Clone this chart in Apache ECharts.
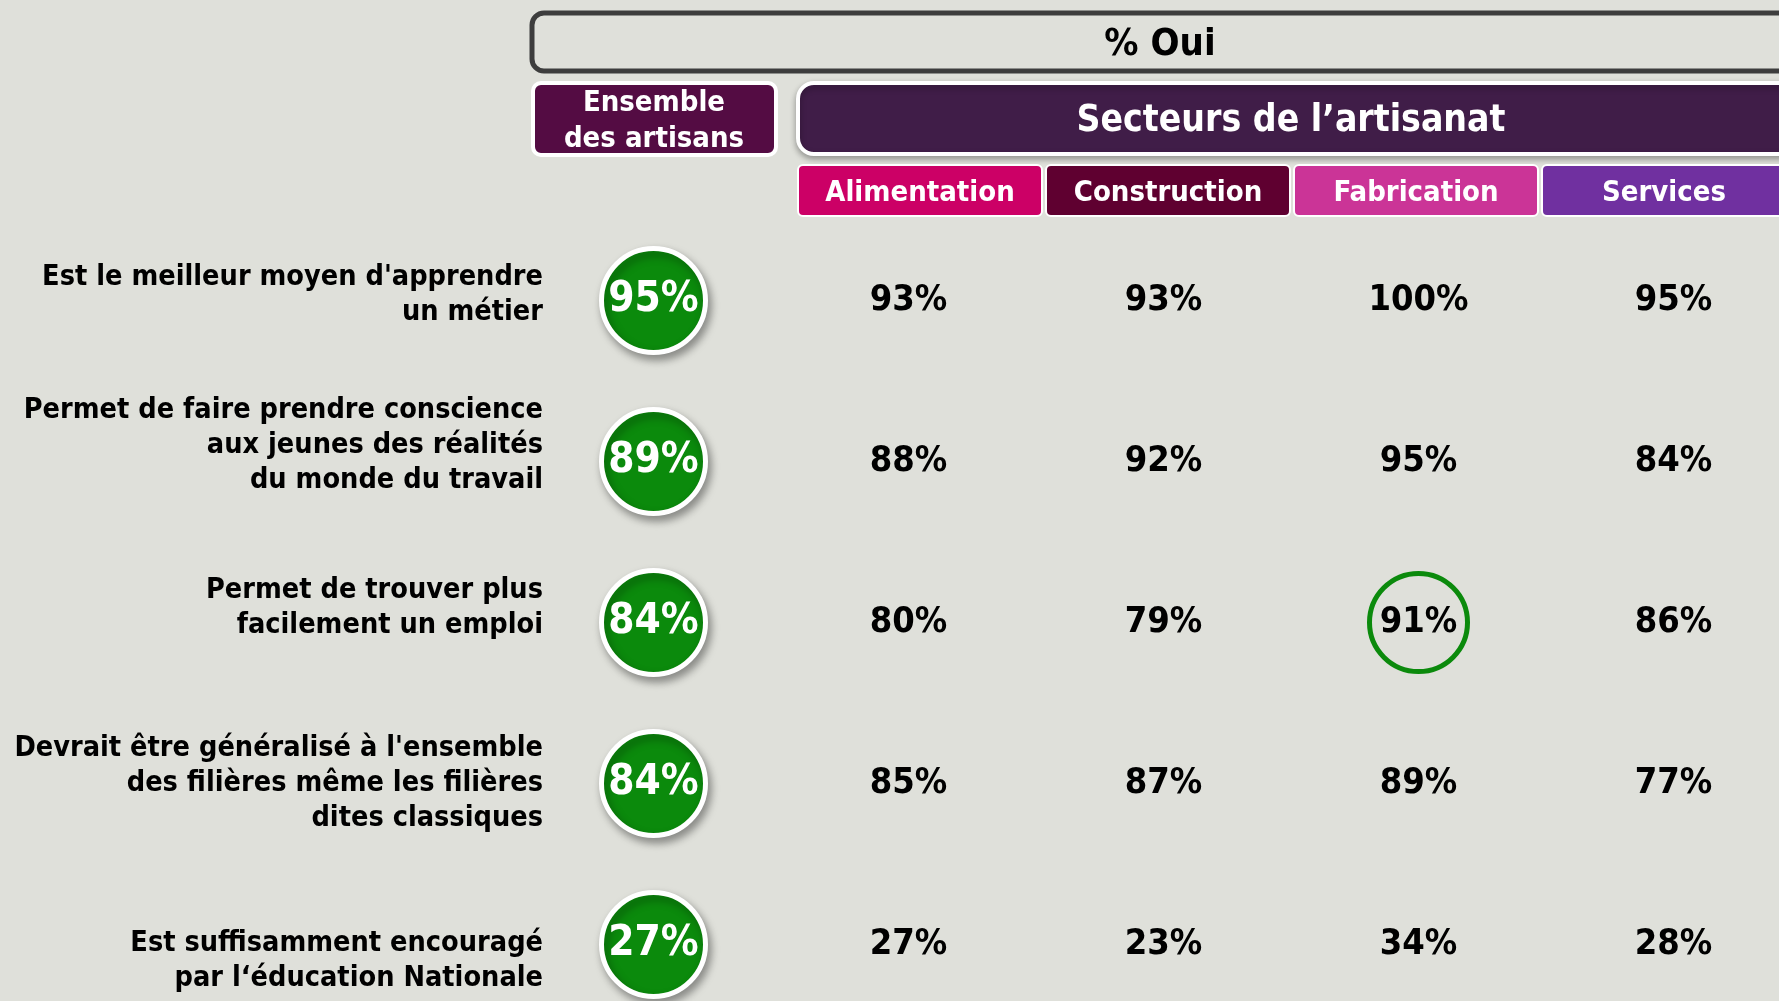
<!DOCTYPE html>
<html>
<head>
<meta charset="utf-8">
<title>% Oui - Secteurs de l'artisanat</title>
<script src="https://cdn.jsdelivr.net/npm/echarts@6/dist/echarts.min.js"></script>
<style>
    html, body { margin: 0; padding: 0; background: #dfe0da; }
    #main { width: 1779px; height: 1001px; }
</style>
</head>
<body>
<div id="main"></div>
<script>
    // questions (lignes)
    var rowLabels = [
        "Est le meilleur moyen d'apprendre\nun métier",
        "Permet de faire prendre conscience\naux jeunes des réalités\ndu monde du travail",
        "Permet de trouver plus\nfacilement un emploi",
        "Devrait être généralisé à l'ensemble\ndes filières même les filières\ndites classiques",
        "Est suffisamment encouragé\npar l‘éducation Nationale"
    ];
    // colonnes
    var columns = ['Ensemble des artisans', 'Alimentation', 'Construction', 'Fabrication', 'Services'];
    var sectors = ['Alimentation', 'Construction', 'Fabrication', 'Services'];

    // % oui
    var ensemble = [95, 89, 84, 84, 27];
    var alimentation = [93, 88, 80, 85, 27];
    var construction = [93, 92, 79, 87, 23];
    var fabrication = [100, 95, 91, 89, 34];
    var services = [95, 84, 86, 77, 28];

    // cellules entourées (secteur, ligne)
    var highlighted = [['Fabrication', 2]];

    var topTitle = '% Oui';
    var ensembleTitle = 'Ensemble\ndes artisans';
    var sectorTitle = 'Secteurs de l’artisanat';

    // styles
    var FONT = "'DejaVu Sans Condensed', 'DejaVu Sans', sans-serif";
    var GREEN = '#0b8a0c';
    var sectorColors = ['#cc0066', '#5f0030', '#cb3497', '#7030a0'];
    var labelShift = [-5, -16, -14, 0, 17]; // décalage vertical des libellés (px)

    var sectorValues = [alimentation, construction, fabrication, services];

    var ensembleData = ensemble.map(function (v, i) {
        return [columns[0], i, v];
    });
    var sectorData = [];
    sectors.forEach(function (s, k) {
        sectorValues[k].forEach(function (v, i) {
            sectorData.push([s, i, v]);
        });
    });
    var ringData = highlighted.map(function (h) {
        return [h[0], h[1], sectorValues[sectors.indexOf(h[0])][h[1]]];
    });

    // ligne vide d'espacement pour décaler chaque libellé verticalement
    var rich = {};
    labelShift.forEach(function (s, k) {
        rich['sp' + k] = { fontSize: 1, lineHeight: Math.max(1, 2 * Math.abs(s)) };
    });

    // bandeaux d'en-tête
    var headerGraphics = [
        {
            type: 'rect',
            shape: { x: 532, y: 13, width: 1300, height: 58, r: 12 },
            style: { fill: 'none', stroke: '#3d3d3d', lineWidth: 5 }
        },
        {
            type: 'text',
            x: 1160, y: 45,
            style: {
                text: topTitle, fill: '#000', font: 'bold 38px ' + FONT,
                textAlign: 'center', textVerticalAlign: 'middle'
            }
        },
        {
            type: 'rect',
            shape: { x: 533, y: 83, width: 243, height: 72, r: 8 },
            style: { fill: '#540c43', stroke: '#ffffff', lineWidth: 4 }
        },
        {
            type: 'text',
            x: 654, y: 121,
            style: {
                text: ensembleTitle, fill: '#fff', font: 'bold 29px ' + FONT,
                lineHeight: 36, textAlign: 'center', textVerticalAlign: 'middle'
            }
        },
        {
            type: 'rect',
            shape: { x: 798, y: 83, width: 1020, height: 71, r: 16 },
            style: {
                fill: '#401d48', stroke: '#ffffff', lineWidth: 4,
                shadowBlur: 6, shadowOffsetY: 3, shadowColor: 'rgba(0,0,0,0.3)'
            }
        },
        {
            type: 'text',
            x: 1291, y: 121,
            style: {
                text: sectorTitle, fill: '#fff', font: 'bold 37px ' + FONT,
                textAlign: 'center', textVerticalAlign: 'middle'
            }
        }
    ];
    var headerLeft = [798, 1046, 1294, 1542];
    sectors.forEach(function (s, k) {
        headerGraphics.push({
            type: 'rect',
            shape: { x: headerLeft[k], y: 165, width: 244, height: 51, r: 5 },
            style: { fill: sectorColors[k], stroke: '#ffffff', lineWidth: 2 }
        });
        headerGraphics.push({
            type: 'text',
            x: headerLeft[k] + 122, y: 193,
            style: {
                text: s, fill: '#fff', font: 'bold 29px ' + FONT,
                textAlign: 'center', textVerticalAlign: 'middle'
            }
        });
    });

    var chart = echarts.init(document.getElementById('main'));
    chart.setOption({
        backgroundColor: '#dfe0da',
        animation: false,
        textStyle: { fontFamily: FONT },
        graphic: headerGraphics,
        grid: {
            left: 526,
            top: 220,
            width: 1275,
            height: 805,
            outerBoundsMode: 'none',
            containLabel: false
        },
        xAxis: {
            type: 'category',
            data: columns,
            show: false
        },
        yAxis: {
            type: 'category',
            data: rowLabels,
            inverse: true,
            axisLine: { show: false },
            axisTick: { show: false },
            splitLine: { show: false },
            axisLabel: {
                interval: 0,
                margin: -17,
                align: 'right',
                fontFamily: FONT,
                fontWeight: 'bold',
                fontSize: 28.6,
                lineHeight: 35,
                color: '#000',
                rich: rich,
                formatter: function (value, idx) {
                    var s = labelShift[idx];
                    if (!s) return value;
                    var spacer = '{sp' + idx + '| }';
                    return s > 0 ? spacer + '\n' + value : value + '\n' + spacer;
                }
            }
        },
        series: [
            {
                name: 'Ensemble',
                type: 'scatter',
                symbol: 'circle',
                symbolSize: 104,
                data: ensembleData,
                itemStyle: {
                    color: GREEN,
                    borderColor: '#ffffff',
                    borderWidth: 5,
                    opacity: 1,
                    shadowBlur: 8,
                    shadowOffsetX: 3,
                    shadowOffsetY: 5,
                    shadowColor: 'rgba(0,0,0,0.35)'
                },
                label: {
                    show: true,
                    position: 'inside',
                    formatter: function (p) { return p.value[2] + '%'; },
                    color: '#ffffff',
                    fontFamily: FONT,
                    fontWeight: 'bold',
                    fontSize: 42
                },
                z: 3
            },
            {
                name: 'Secteurs',
                type: 'scatter',
                symbolSize: 1,
                data: sectorData,
                itemStyle: { color: 'rgba(0,0,0,0)', opacity: 1 },
                label: {
                    show: true,
                    position: 'inside',
                    formatter: function (p) { return p.value[2] + '%'; },
                    color: '#000000',
                    fontFamily: FONT,
                    fontWeight: 'bold',
                    fontSize: 36
                },
                z: 4
            },
            {
                name: 'Significatif',
                type: 'scatter',
                symbol: 'circle',
                symbolSize: 98,
                data: ringData,
                itemStyle: {
                    color: 'rgba(0,0,0,0)',
                    borderColor: GREEN,
                    borderWidth: 5,
                    opacity: 1
                },
                label: { show: false },
                z: 2
            }
        ]
    });
</script>
</body>
</html>
